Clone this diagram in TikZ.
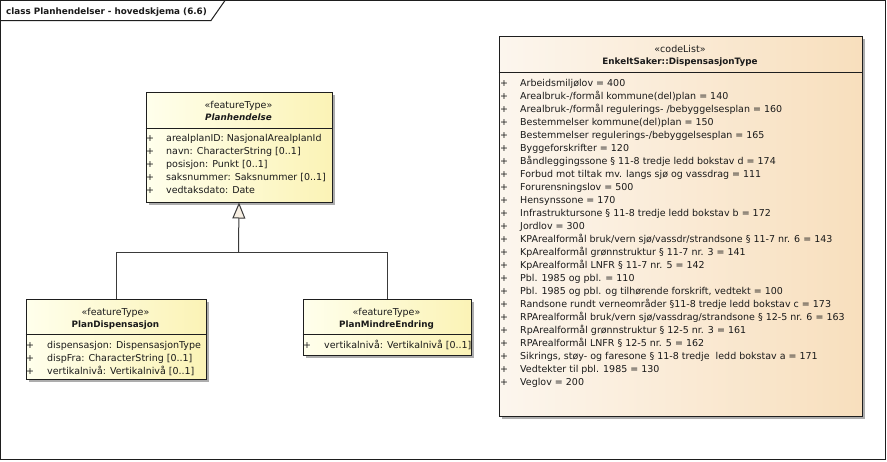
\documentclass[tikz,border=0pt]{standalone}
\usepackage{fontspec}
\setmainfont{DejaVu Sans}
\usetikzlibrary{arrows.meta,shadows}
\definecolor{ftL}{HTML}{FFFFEC}
\definecolor{ftR}{HTML}{FBF3B6}
\definecolor{clL}{HTML}{FCF6EE}
\definecolor{clR}{HTML}{F8DFBD}
\definecolor{shd}{HTML}{ADADAD}
\definecolor{tri}{HTML}{F7EFE3}
\definecolor{ln}{HTML}{1E1E1E}
\definecolor{cn}{HTML}{3A3A3A}
\definecolor{tx}{HTML}{1A1A1A}
\newcommand{\bfnt}{\fontsize{8.8}{10}\selectfont\bfseries}
\begin{document}
\begin{tikzpicture}[x=1pt,y=-1pt,
  font=\fontsize{9.5}{11}\selectfont, text=tx,
  box/.style={draw=ln, line width=1pt, anchor=north west, inner sep=0pt,
    drop shadow={shadow xshift=3pt, shadow yshift=-3pt, fill=shd, opacity=1}},
  ft/.style={box, left color=ftL, right color=ftR},
  cl/.style={box, left color=clL, right color=clR},
  stereo/.style={anchor=base, inner sep=0pt},
  cname/.style={anchor=base, inner sep=0pt, font=\bfnt},
  attr/.style={anchor=base west, inner sep=0pt},
  plus/.style={anchor=base, inner sep=0pt},
  sepline/.style={draw=ln, line width=1pt},
  gen/.style={draw=cn, line width=1pt},
]
\useasboundingbox (0,0) rectangle (887,461);
\fill[white] (0,0) rectangle (887,461);
% frame
\draw[line width=1pt, draw=ln] (0.5,0.5) rectangle (885.5,459.5);
\draw[line width=1pt, draw=ln] (0.5,20.5) -- (211,20.5) -- (225,0.5);
\node[attr, font=\bfnt] (title) at (6,14) {class Planhendelser - hovedskjema (6.6)};

% Planhendelse
\node[ft, minimum width=186pt, minimum height=110pt] (ph) at (145.5,91.5) {};
\draw[sepline] (145.5,128.5) -- (331.5,128.5);
\node[stereo] (ph-st) at (238.5,108) {«featureType»};
\node[cname, font=\bfnt\itshape] (ph-nm) at (238.5,120) {Planhendelse};
\foreach \t [count=\i from 0] in {arealplanID: NasjonalArealplanId, navn: CharacterString [0..1], posisjon: Punkt [0..1], saksnummer: Saksnummer [0..1], vedtaksdato: Date}{
  \node[plus] (ph-p\i) at (150,{141.5+13*\i}) {+};
  \node[attr] (ph-a\i) at (166,{141.5+13*\i}) {\t};
}

% PlanDispensasjon
\node[ft, minimum width=180pt, minimum height=80pt] (disp) at (25.5,298.5) {};
\draw[sepline] (25.5,334.5) -- (205.5,334.5);
\node[stereo] (disp-st) at (115.5,315.5) {«featureType»};
\node[cname] (disp-nm) at (115.5,327.5) {PlanDispensasjon};
\foreach \t [count=\i from 0] in {dispensasjon: DispensasjonType, dispFra: CharacterString [0..1], vertikalnivå: Vertikalnivå [0..1]}{
  \node[plus] (disp-p\i) at (30,{348+13*\i}) {+};
  \node[attr] (disp-a\i) at (47,{348+13*\i}) {\t};
}

% PlanMindreEndring
\node[ft, minimum width=168pt, minimum height=56pt] (me) at (302.5,298.5) {};
\draw[sepline] (302.5,334.5) -- (470.5,334.5);
\node[stereo] (me-st) at (386.5,315.5) {«featureType»};
\node[cname] (me-nm) at (386.5,327.5) {PlanMindreEndring};
\node[plus] (me-p0) at (307,348.5) {+};
\node[attr] (me-a0) at (324,348.5) {vertikalnivå: Vertikalnivå [0..1]};

% generalization
\coordinate (j) at (238.5,252.5);
\draw[gen] (disp.north) |- (j) -| (me.north);
\draw[gen, -{Triangle[length=16pt, width=13pt, fill=tri, line width=1pt]}] (j) -- (ph.south);

% codeList
\node[cl, minimum width=363pt, minimum height=380pt] (dt) at (498.5,35.5) {};
\draw[sepline] (498.5,72.5) -- (861.5,72.5);
\node[stereo] (dt-st) at (680,52) {«codeList»};
\node[cname] (dt-nm) at (680,64) {EnkeltSaker::DispensasjonType};
\foreach \t [count=\i from 0] in {
  Arbeidsmiljølov = 400,
  Arealbruk-/formål kommune(del)plan = 140,
  Arealbruk-/formål regulerings- /bebyggelsesplan = 160,
  Bestemmelser kommune(del)plan = 150,
  Bestemmelser regulerings-/bebyggelsesplan = 165,
  Byggeforskrifter = 120,
  Båndleggingssone § 11-8 tredje ledd bokstav d = 174,
  Forbud mot tiltak mv. langs sjø og vassdrag = 111,
  Forurensningslov = 500,
  Hensynssone = 170,
  Infrastruktursone § 11-8 tredje ledd bokstav b = 172,
  Jordlov = 300,
  KPArealformål bruk/vern sjø/vassdr/strandsone § 11-7 nr. 6 = 143,
  KpArealformål grønnstruktur § 11-7 nr. 3 = 141,
  KpArealformål LNFR § 11-7 nr. 5 = 142,
  Pbl. 1985 og pbl. = 110,
  {Pbl. 1985 og pbl. og tilhørende forskrift, vedtekt = 100},
  Randsone rundt verneområder §11-8 tredje ledd bokstav c = 173,
  RPArealformål bruk/vern sjø/vassdrag/strandsone § 12-5 nr. 6 = 163,
  RpArealformål grønnstruktur § 12-5 nr. 3 = 161,
  RPArealformål LNFR § 12-5 nr. 5 = 162,
  {Sikrings, støy- og faresone § 11-8 tredje~ ledd bokstav a = 171},
  Vedtekter til pbl. 1985 = 130,
  Veglov = 200}{
  \node[plus] (dt-p\i) at (504,{86.5+13*\i}) {+};
  \node[attr] (dt-a\i) at (520,{86.5+13*\i}) {\t};
}
\end{tikzpicture}
\end{document}
